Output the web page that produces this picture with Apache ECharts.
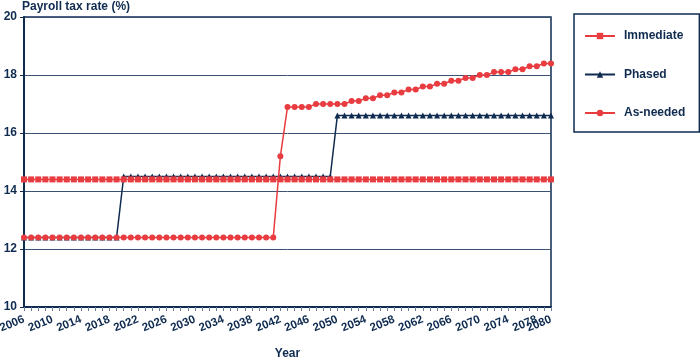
<!DOCTYPE html>
<html><head><meta charset="utf-8">
<script src="https://cdn.jsdelivr.net/npm/echarts@6/dist/echarts.min.js"></script>
<style>html,body{margin:0;padding:0;background:#fff}#c{width:700px;height:362px}</style>
</head><body><div id="c"></div>
<script>
const years = [];
for (let y = 2006; y <= 2080; y++) years.push(String(y));

// Immediate: 2006-2080
const immediate = [14.4,14.4,14.4,14.4,14.4,14.4,14.4,14.4,14.4,14.4,14.4,14.4,14.4,14.4,14.4,
14.4,14.4,14.4,14.4,14.4,14.4,14.4,14.4,14.4,14.4,14.4,14.4,14.4,14.4,14.4,
14.4,14.4,14.4,14.4,14.4,14.4,14.4,14.4,14.4,14.4,14.4,14.4,14.4,14.4,14.4,
14.4,14.4,14.4,14.4,14.4,14.4,14.4,14.4,14.4,14.4,14.4,14.4,14.4,14.4,14.4,
14.4,14.4,14.4,14.4,14.4,14.4,14.4,14.4,14.4,14.4,14.4,14.4,14.4,14.4,14.4];

// Phased: 2006-2080
const phased = [12.4,12.4,12.4,12.4,12.4,12.4,12.4,12.4,12.4,12.4,12.4,12.4,12.4,12.4,
14.5,14.5,14.5,14.5,14.5,14.5,14.5,14.5,14.5,14.5,14.5,14.5,14.5,14.5,14.5,
14.5,14.5,14.5,14.5,14.5,14.5,14.5,14.5,14.5,14.5,14.5,14.5,14.5,14.5,14.5,
16.6,16.6,16.6,16.6,16.6,16.6,16.6,16.6,16.6,16.6,16.6,16.6,16.6,16.6,16.6,16.6,
16.6,16.6,16.6,16.6,16.6,16.6,16.6,16.6,16.6,16.6,16.6,16.6,16.6,16.6,16.6];

// As-needed: 2006-2080
const asNeeded = [12.4,12.4,12.4,12.4,12.4,12.4,12.4,12.4,12.4,12.4,12.4,12.4,12.4,12.4,12.4,
12.4,12.4,12.4,12.4,12.4,12.4,12.4,12.4,12.4,12.4,12.4,12.4,12.4,12.4,12.4,
12.4,12.4,12.4,12.4,12.4,12.4,
15.2,
16.9,16.9,16.9,16.9,
17.0,17.0,17.0,17.0,17.0,
17.1,17.1,17.2,17.2,17.3,17.3,17.4,17.4,17.5,17.5,17.6,17.6,17.7,17.7,17.8,17.8,
17.9,17.9,18.0,18.0,18.1,18.1,18.1,18.2,18.2,18.3,18.3,18.4,18.4];

const yTicks = [10, 12, 14, 16, 18, 20];

const navy = '#0f2b50';
const red = '#e83c40';
const font = 'Liberation Sans, Arial, sans-serif';

const chart = echarts.init(document.getElementById('c'));
chart.setOption({
  animation: false,
  textStyle: { fontFamily: font },
  title: {
    text: 'Payroll tax rate (%)', left: 22, top: 1, padding: 0,
    textStyle: { fontSize: 12, fontWeight: 'bold', color: navy, fontFamily: font }
  },
  grid: { left: 24, right: 149, top: 17, bottom: 55, show: true, borderColor: navy, borderWidth: 1.5,
          containLabel: false, outerBoundsMode: 'none' },
  legend: {
    orient: 'vertical', left: 574, top: 14,
    padding: [16, 14, 13, 10], itemGap: 26.5, itemWidth: 30, itemHeight: 8,
    borderColor: navy, borderWidth: 1.5,
    textStyle: { fontSize: 12, fontWeight: 'bold', color: navy, fontFamily: font, padding: [0, 0, 0, 4] },
    data: ['Immediate', 'Phased', 'As-needed']
  },
  xAxis: {
    type: 'category', data: years, boundaryGap: false,
    name: 'Year', nameLocation: 'middle', nameGap: 41,
    nameTextStyle: { fontSize: 12, fontWeight: 'bold', color: navy },
    axisLine: { lineStyle: { color: navy, width: 2 } },
    axisTick: { show: true, interval: 0, length: 4, lineStyle: { color: '#6b7d95' } },
    axisLabel: {
      rotate: 22, fontSize: 11.5, fontWeight: 'bold', color: navy, margin: 12,
      interval: 0, hideOverlap: false,
      formatter: (v, i) => (i % 4 === 0 || i === years.length - 1) ? v : ''
    },
    splitLine: { show: false }
  },
  yAxis: {
    type: 'value', min: yTicks[0], max: yTicks[yTicks.length - 1], interval: 2,
    axisLine: { show: true, lineStyle: { color: navy, width: 2 } },
    axisTick: { show: true, length: 4, lineStyle: { color: navy } },
    axisLabel: { fontSize: 12, fontWeight: 'bold', color: navy, margin: 7 },
    splitLine: { lineStyle: { color: '#3c5274', width: 1 } }
  },
  series: [
    { name: 'Immediate', type: 'line', data: immediate, symbol: 'rect', symbolSize: 6, showAllSymbol: true,
      itemStyle: { color: red }, lineStyle: { color: red, width: 1.5 }, z: 3 },
    { name: 'Phased', type: 'line', data: phased, symbol: 'triangle', symbolSize: 6, showAllSymbol: true,
      itemStyle: { color: navy }, lineStyle: { color: navy, width: 1.5 }, z: 2 },
    { name: 'As-needed', type: 'line', data: asNeeded, symbol: 'circle', symbolSize: 6, showAllSymbol: true,
      itemStyle: { color: red }, lineStyle: { color: red, width: 1.5 }, z: 4 }
  ]
});
</script></body></html>
